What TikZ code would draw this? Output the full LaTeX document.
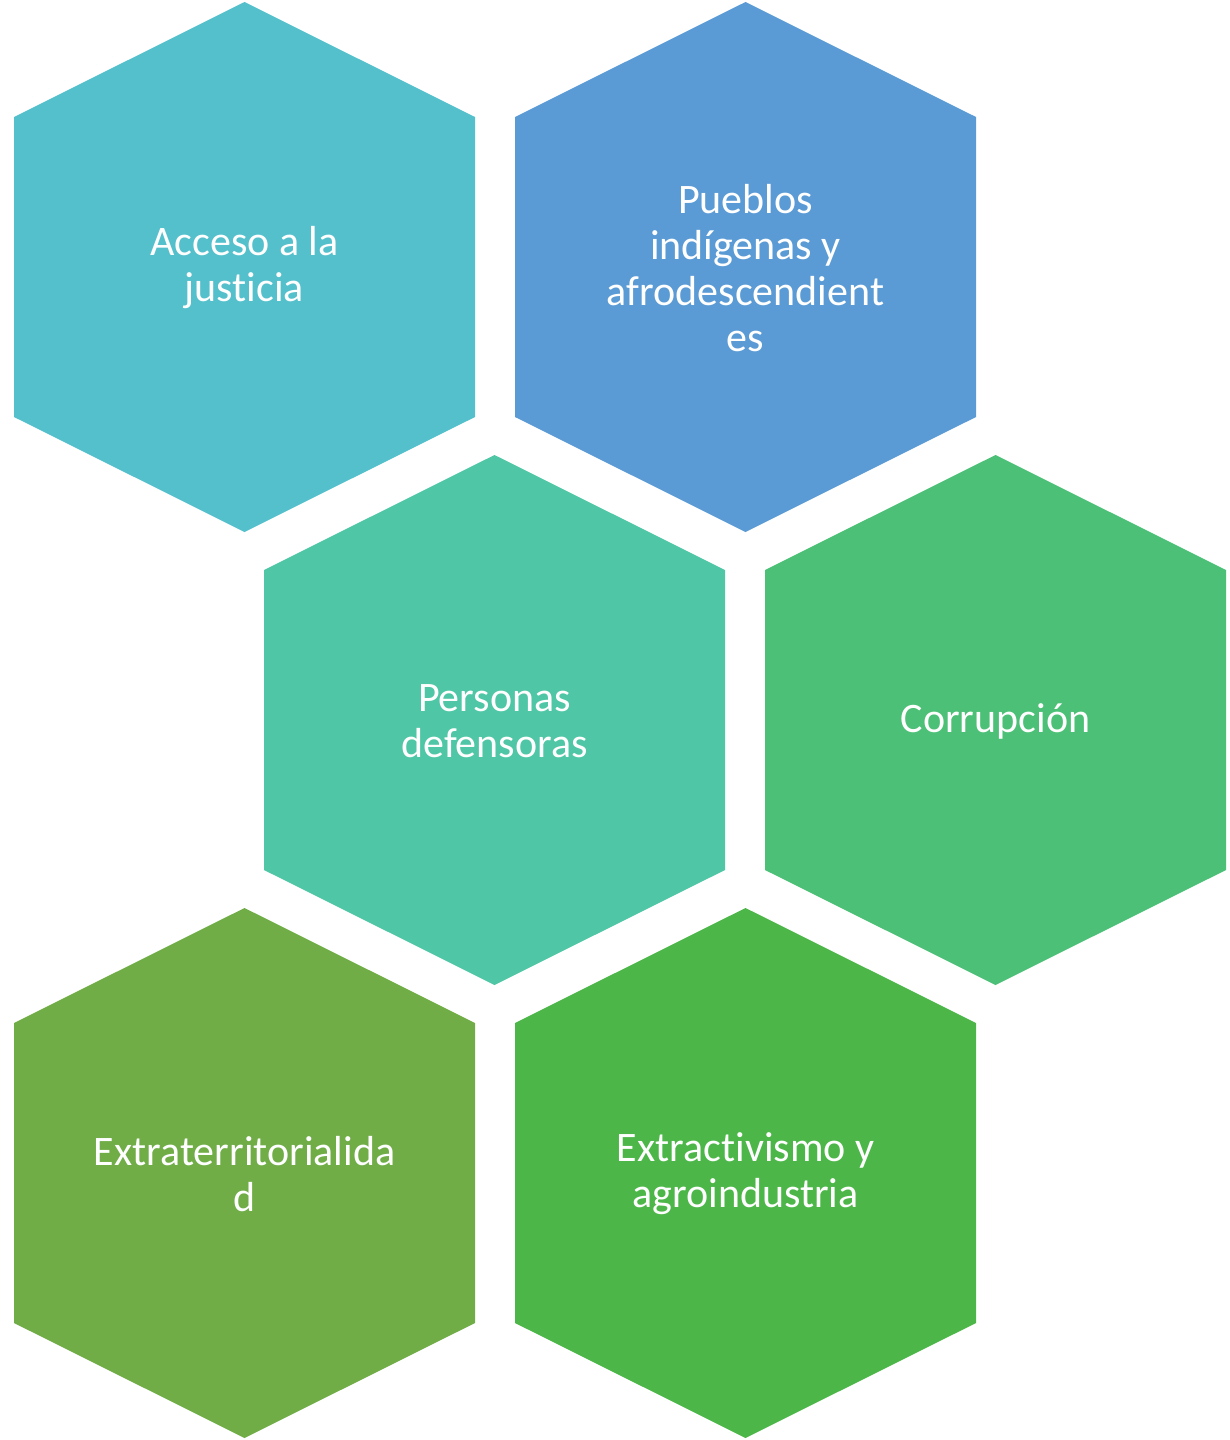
\documentclass[tikz,border=0pt]{standalone}
\usepackage{fontspec}
\setmainfont{Carlito}[RawFeature={-liga}]
\usepackage{tikz}
\usetikzlibrary{positioning}

\definecolor{hexcyan}{RGB}{84,192,204}
\definecolor{hexblue}{RGB}{91,155,213}
\definecolor{hexteal}{RGB}{79,198,165}
\definecolor{hexgreen}{RGB}{75,192,118}
\definecolor{hexolive}{RGB}{112,173,71}
\definecolor{hexleaf}{RGB}{76,183,72}

\tikzset{
    hexlabel/.style={align=center, text=white, font=\fontsize{42}{46}\selectfont, inner sep=0pt, yshift=-1pt}
}

\begin{document}
\begin{tikzpicture}[x=1pt, y=-1pt]
    \useasboundingbox (0,0) rectangle (1230,1440);

    % hexagons
    \foreach \cx/\cy/\col in {244.5/267/hexcyan, 745.5/267/hexblue, 494.5/720/hexteal,
                              995.5/720/hexgreen, 244.5/1173/hexolive, 745.5/1173/hexleaf}
    {
        \fill[\col] (\cx,\cy-265) -- ++(230.5,115) -- ++(0,300) -- ++(-230.5,115)
                    -- ++(-230.5,-115) -- ++(0,-300) -- cycle;
    }

    \node[hexlabel] (justicia) at (244.5,267) {Acceso a la\\justicia};
    \node[hexlabel] (pueblos) at (745.5,267) {Pueblos\\indígenas y\\afrodescendient\\es};
    \node[hexlabel] (defensoras) at (494.5,720) {Personas\\defensoras};
    \node[hexlabel] (corrupcion) at (995.5,720) {Corrupción};
    \node[hexlabel] (extraterr) at (244.5,1173) {Extraterritorialida\\d};
    \node[hexlabel] (extractiv) at (745.5,1173) {Extractivismo y\\agroindustria};
\end{tikzpicture}
\end{document}
